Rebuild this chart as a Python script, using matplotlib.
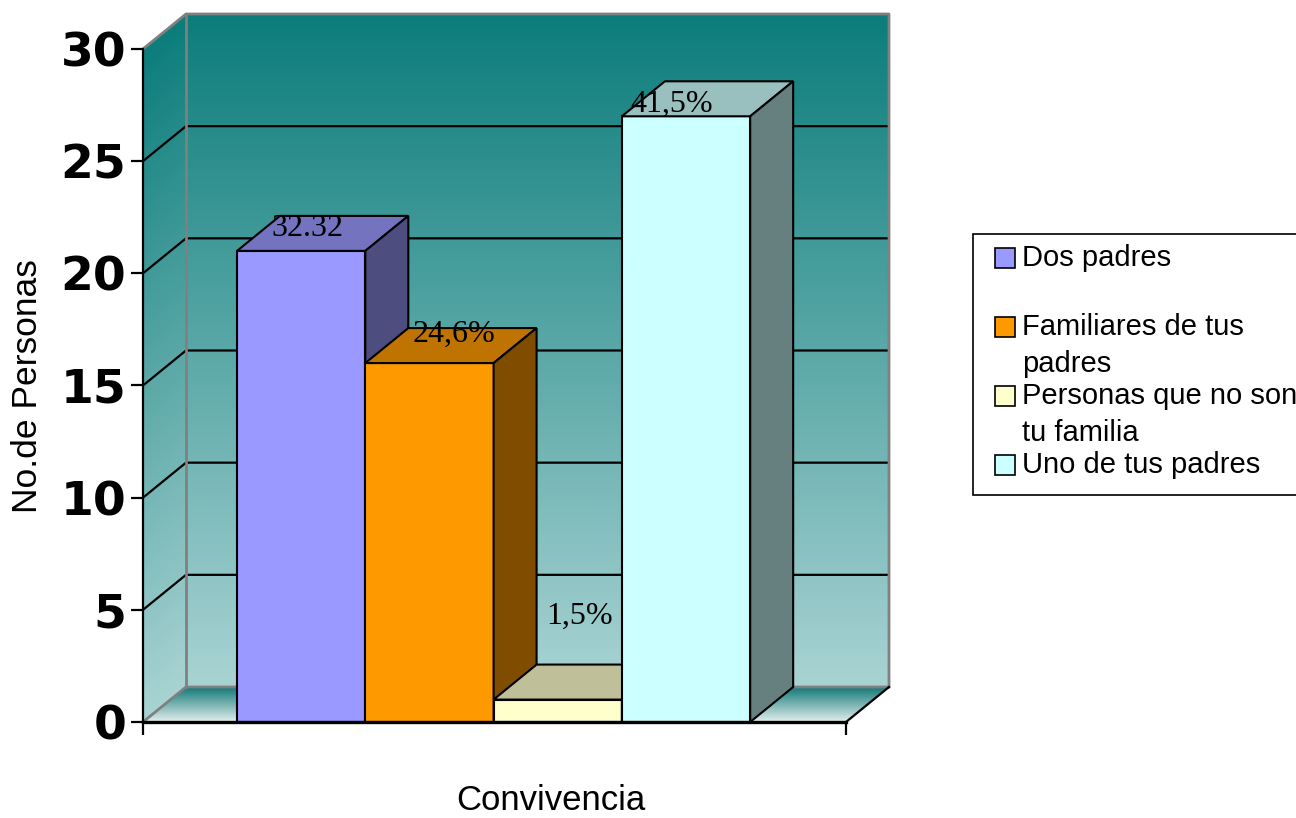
import numpy as np
import matplotlib
matplotlib.use('Agg')
import matplotlib.pyplot as plt
from matplotlib.patches import Polygon, Rectangle
from matplotlib.colors import LinearSegmentedColormap

categories = ['Dos padres', 'Familiares de tus\npadres', 'Personas que no son\ntu familia', 'Uno de tus padres']
values = [21, 16, 1, 27]
bar_labels = ['32.32', '24,6%', '1,5%', '41,5%']
yticks = [0, 5, 10, 15, 20, 25, 30]

front_colors = ['#9999ff', '#ff9900', '#ffffcc', '#ccffff']
top_colors = ['#7373bf', '#bf7300', '#bfbf99', '#99bfbf']
side_colors = ['#4d4d80', '#804d00', '#80805f', '#668080']
# where each value label sits, relative to bar centre / top
label_dx = [0.05, 0.19, 0.17, -0.11]
label_dy = [1.0, 1.3, 3.7, 0.55]

W, H = 1296, 818
fig = plt.figure(figsize=(W / 100, H / 100), dpi=100)
ax = fig.add_axes([143 / W, 96 / H, 746 / W, 708 / H])

X0, X1 = -1.233, 4.247   # front floor edge
DX, DY = 0.335, 1.56     # depth offset
YMAX = 30

wall_cmap = LinearSegmentedColormap.from_list('wall', ['#a9d3d3', '#0b7d7b'])
floor_cmap = LinearSegmentedColormap.from_list('floor', ['#e2eeee', '#137a78'])

# back wall
grad = np.linspace(0, 1, 256).reshape(-1, 1)
ax.imshow(grad, cmap=wall_cmap, origin='lower', aspect='auto',
          extent=[X0 + DX, X1 + DX, DY, YMAX + DY], zorder=0)

# side wall, gradient follows the skew
xs = np.linspace(X0, X0 + DX, 40)
ys = np.linspace(0, YMAX + DY, 400)
gx, gy = np.meshgrid(xs, ys)
h = np.clip((gy - DY * (gx - X0) / DX) / YMAX, 0, 1)
side = ax.imshow(h, cmap=wall_cmap, origin='lower', aspect='auto',
                 extent=[X0, X0 + DX, 0, YMAX + DY], zorder=0)
side_poly = Polygon([(X0, 0), (X0 + DX, DY), (X0 + DX, YMAX + DY), (X0, YMAX)],
                    closed=True, transform=ax.transData, facecolor='none', edgecolor='none')
ax.add_patch(side_poly)
side.set_clip_path(side_poly)

# floor
fl = ax.imshow(np.linspace(0, 1, 64).reshape(-1, 1), cmap=floor_cmap, origin='lower',
               aspect='auto', extent=[X0, X1 + DX, 0, DY], zorder=0)
floor_poly = Polygon([(X0, 0), (X1, 0), (X1 + DX, DY), (X0 + DX, DY)],
                     closed=True, transform=ax.transData, facecolor='none', edgecolor='none')
ax.add_patch(floor_poly)
fl.set_clip_path(floor_poly)

# grid lines
for v in yticks[1:-1]:
    ax.plot([X0, X0 + DX, X1 + DX], [v, v + DY, v + DY], color='black', lw=1.6, zorder=1)

# wall borders
gray = '#808080'
ax.plot([X0, X0 + DX, X1 + DX], [0, DY, DY], color=gray, lw=2, zorder=1)
ax.plot([X0, X0 + DX, X1 + DX, X1 + DX], [YMAX, YMAX + DY, YMAX + DY, DY], color=gray, lw=2,
        zorder=1, clip_on=False)
ax.plot([X0 + DX, X0 + DX], [DY, YMAX + DY], color=gray, lw=2, zorder=1)
ax.plot([X1, X1 + DX], [0, DY], color='black', lw=1.6, zorder=1, clip_on=False)

# bars
for i, v in enumerate(values):
    l, r = i - 0.5, i + 0.5
    z = 3 + i
    ax.add_patch(Rectangle((l, 0), 1, v, facecolor=front_colors[i], edgecolor='black', lw=1.5, zorder=z))
    ax.add_patch(Polygon([(l, v), (r, v), (r + DX, v + DY), (l + DX, v + DY)],
                         facecolor=top_colors[i], edgecolor='black', lw=1.5, zorder=z))
    ax.add_patch(Polygon([(r, 0), (r + DX, DY), (r + DX, v + DY), (r, v)],
                         facecolor=side_colors[i], edgecolor='black', lw=1.5, zorder=z))
    ax.text(i + label_dx[i], v + label_dy[i], bar_labels[i], ha='center', va='center',
            fontsize=23, family='Liberation Serif', color='black', zorder=20)

ax.set_xlim(X0, X1 + DX)
ax.set_ylim(0, YMAX + DY)

for s in ['top', 'right']:
    ax.spines[s].set_visible(False)
ax.spines['left'].set_bounds(0, YMAX)
ax.spines['bottom'].set_bounds(X0, X1)
ax.spines['left'].set_linewidth(1.6)
ax.spines['bottom'].set_linewidth(2.4)
ax.spines['left'].set_zorder(15)
ax.spines['bottom'].set_zorder(15)
ax.set_yticks(yticks)
ax.set_yticklabels([str(t) for t in yticks], fontsize=34, fontweight='bold', family='DejaVu Sans')
ax.set_xticks([X0, X1])
ax.set_xticklabels(['', ''])
ax.tick_params(axis='both', length=9, width=1.6, pad=3, direction='out')
ax.patch.set_visible(False)

fig.text(28 / W, 1 - 386 / H, 'No.de Personas', rotation=90, ha='center', va='center',
         fontsize=25.5, family='Liberation Sans')
fig.text(551 / W, 1 - 800 / H, 'Convivencia', ha='center', va='center',
         fontsize=25, family='Liberation Sans')

# legend box
fig.patches.append(Rectangle((973 / W, 1 - 495 / H), 330 / W, 261 / H, transform=fig.transFigure,
                             facecolor='white', edgecolor='black', lw=1.2, clip_on=False))
for i, cat in enumerate(categories):
    yc = 258 + i * 69
    fig.patches.append(Rectangle((995 / W, 1 - (yc + 10) / H), 20 / W, 20 / H, transform=fig.transFigure,
                                 facecolor=front_colors[i], edgecolor='black', lw=1.2))
    for k, line in enumerate(cat.split('\n')):
        fig.text(1022 / W, 1 - (yc + k * 37) / H, line, ha='left', va='center',
                 fontsize=21, family='Liberation Sans')

fig.savefig('out.png', dpi=100)
